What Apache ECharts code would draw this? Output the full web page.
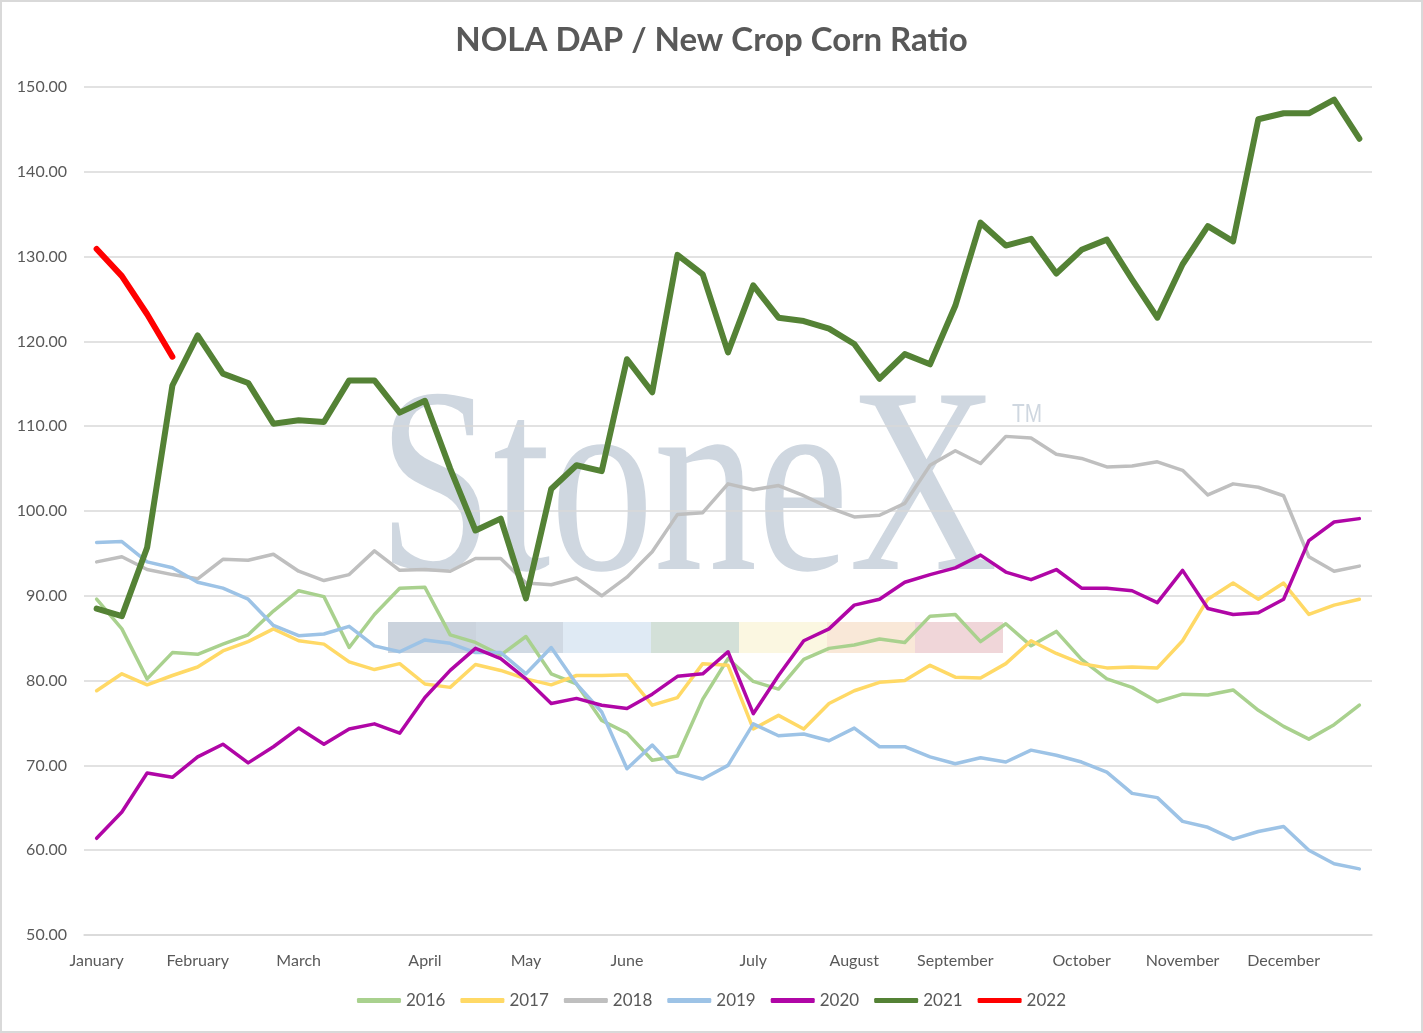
<!DOCTYPE html>
<html>
<head>
<meta charset="utf-8">
<title>NOLA DAP / New Crop Corn Ratio</title>
<script src="https://cdn.jsdelivr.net/npm/echarts@6/dist/echarts.min.js"></script>
<style>
  html, body { margin: 0; padding: 0; background: #fff; }
  #main { width: 1423px; height: 1033px; }
</style>
</head>
<body>
<div id="main"></div>
<script>
// weekly observations, 51 per year
var monthNames = ['January', 'February', 'March', 'April', 'May', 'June', 'July', 'August', 'September', 'October', 'November', 'December'];
var monthStartWeek = [0, 4, 8, 13, 17, 21, 26, 30, 34, 39, 43, 47];
var weekCount = 51;

var y2016 = [89.6, 86.1, 80.2, 83.3, 83.1, 84.3, 85.4, 88.2, 90.6, 89.9, 83.9, 87.8, 90.9,
    91.0, 85.4, 84.5, 83.0, 85.2, 80.8, 79.6, 75.3, 73.8, 70.6, 71.1, 77.8, 82.6,
    79.9, 79.0, 82.5, 83.8, 84.2, 84.9, 84.5, 87.6, 87.8, 84.6, 86.7, 84.1, 85.8,
    82.5, 80.2, 79.2, 77.5, 78.4, 78.3, 78.9, 76.5, 74.6, 73.1, 74.8, 77.1];
var y2017 = [78.8, 80.8, 79.5, 80.6, 81.6, 83.5, 84.6, 86.1, 84.7, 84.3, 82.2, 81.3, 82.0,
    79.6, 79.2, 81.9, 81.2, 80.2, 79.5, 80.6, 80.6, 80.7, 77.1, 78.0, 82.0, 81.8,
    74.3, 75.9, 74.3, 77.3, 78.8, 79.8, 80.0, 81.8, 80.4, 80.3, 82.0, 84.7, 83.2,
    82.0, 81.5, 81.6, 81.5, 84.7, 89.6, 91.5, 89.6, 91.5, 87.8, 88.9, 89.6];
var y2018 = [94.0, 94.6, 93.1, 92.5, 92.0, 94.3, 94.2, 94.9, 92.9, 91.8, 92.5, 95.3, 93.0,
    93.1, 92.9, 94.4, 94.4, 91.5, 91.3, 92.1, 90.0, 92.2, 95.2, 99.6, 99.8, 103.2,
    102.5, 103.0, 101.8, 100.4, 99.3, 99.5, 100.9, 105.4, 107.1, 105.6, 108.8, 108.6, 106.7,
    106.2, 105.2, 105.3, 105.8, 104.8, 101.9, 103.2, 102.8, 101.8, 94.6, 92.9, 93.5];
var y2019 = [96.3, 96.4, 94.0, 93.3, 91.6, 90.9, 89.6, 86.5, 85.3, 85.5, 86.4, 84.1, 83.4,
    84.8, 84.4, 83.3, 83.3, 80.8, 83.9, 79.6, 76.3, 69.6, 72.4, 69.2, 68.4, 70.0,
    74.9, 73.5, 73.7, 72.9, 74.4, 72.2, 72.2, 71.0, 70.2, 70.9, 70.4, 71.8, 71.2,
    70.4, 69.2, 66.7, 66.2, 63.4, 62.7, 61.3, 62.2, 62.8, 60.0, 58.4, 57.8];
var y2020 = [61.4, 64.5, 69.1, 68.6, 71.0, 72.5, 70.3, 72.2, 74.4, 72.5, 74.3, 74.9, 73.8,
    78.0, 81.2, 83.8, 82.6, 80.2, 77.3, 77.9, 77.1, 76.7, 78.4, 80.5, 80.8, 83.4,
    76.1, 80.6, 84.7, 86.1, 88.9, 89.6, 91.6, 92.5, 93.3, 94.8, 92.8, 91.9, 93.1,
    90.9, 90.9, 90.6, 89.2, 93.0, 88.5, 87.8, 88.0, 89.6, 96.5, 98.7, 99.1];
var y2021 = [88.5, 87.6, 95.7, 114.8, 120.7, 116.2, 115.1, 110.3, 110.7, 110.5, 115.4, 115.4, 111.6,
    113.0, 105.0, 97.7, 99.1, 89.7, 102.6, 105.4, 104.7, 117.9, 114.0, 130.2, 127.9, 118.7,
    126.6, 122.8, 122.4, 121.5, 119.7, 115.6, 118.5, 117.3, 124.2, 134.0, 131.3, 132.1, 128.0,
    130.8, 132.0, 127.3, 122.8, 129.1, 133.6, 131.8, 146.2, 146.9, 146.9, 148.5, 143.9];
var y2022 = [130.9, 127.7, 123.2, 118.2];

var yTicks = { min: 50, max: 150, step: 10 };

var weeks = [];
for (var i = 0; i < weekCount; i++) {
    weeks.push('W' + (i + 1));
}

function lineSeries(name, data, color, width) {
    return {
        name: name,
        type: 'line',
        data: data,
        symbol: 'none',
        showSymbol: false,
        color: color,
        lineStyle: { color: color, width: width, cap: 'round', join: 'round' },
        emphasis: { disabled: true }
    };
}

var chartDom = document.getElementById('main');
var myChart = echarts.init(chartDom);
var option;

var textColor = '#595959';
var font = 'Lato';

option = {
    animation: false,
    backgroundColor: '#ffffff',
    title: {
        text: 'NOLA DAP / New Crop Corn Ratio',
        left: 'center',
        top: 19,
        textStyle: { color: textColor, fontSize: 33, fontWeight: 'bold', fontFamily: font }
    },
    legend: {
        bottom: 19,
        left: 'center',
        icon: 'roundRect',
        itemWidth: 44,
        itemHeight: 5,
        itemGap: 15,
        textStyle: { color: textColor, fontSize: 17, fontFamily: font },
        data: ['2016', '2017', '2018', '2019', '2020', '2021', '2022']
    },
    grid: {
        left: 84,
        right: 51,
        top: 87,
        bottom: 98,
        containLabel: false
    },
    graphic: [
        {
            type: 'rect',
            z: -10,
            silent: true,
            shape: { x: 1, y: 1, width: 1421, height: 1031 },
            style: { fill: null, stroke: '#d9d9d9', lineWidth: 2 }
        },
        // StoneX watermark
        {
            type: 'text',
            z: -5,
            silent: true,
            x: 378,
            y: 367,
            scaleX: 0.78,
            style: {
                text: 'StoneX',
                font: '265px "Liberation Serif"',
                fill: '#cfd7e0'
            }
        },
        {
            type: 'text',
            z: -5,
            silent: true,
            x: 1012,
            y: 402,
            scaleX: 0.8,
            style: { text: 'TM', font: '26px "Liberation Sans"', fill: '#cfd7e0' }
        },
        { type: 'rect', z: -5, silent: true, shape: { x: 388, y: 622, width: 88, height: 31 }, style: { fill: '#cbd3dd' } },
        { type: 'rect', z: -5, silent: true, shape: { x: 476, y: 622, width: 88, height: 31 }, style: { fill: '#d0d9e3' } },
        { type: 'rect', z: -5, silent: true, shape: { x: 563, y: 622, width: 88, height: 31 }, style: { fill: '#dfeaf4' } },
        { type: 'rect', z: -5, silent: true, shape: { x: 651, y: 622, width: 88, height: 31 }, style: { fill: '#d3e0d8' } },
        { type: 'rect', z: -5, silent: true, shape: { x: 739, y: 622, width: 88, height: 31 }, style: { fill: '#fbf7e1' } },
        { type: 'rect', z: -5, silent: true, shape: { x: 827, y: 622, width: 88, height: 31 }, style: { fill: '#f9e8d8' } },
        { type: 'rect', z: -5, silent: true, shape: { x: 915, y: 622, width: 88, height: 31 }, style: { fill: '#f0d6d9' } }
    ],
    xAxis: {
        type: 'category',
        boundaryGap: true,
        data: weeks,
        axisLine: { show: true, lineStyle: { color: '#d9d9d9', width: 1.5 } },
        axisTick: { show: false },
        axisLabel: {
            color: textColor,
            fontSize: 16,
            fontFamily: font,
            margin: 18,
            interval: function (index) {
                return monthStartWeek.indexOf(index) >= 0;
            },
            formatter: function (value, index) {
                var k = monthStartWeek.indexOf(index);
                return k >= 0 ? monthNames[k] : '';
            }
        }
    },
    yAxis: {
        type: 'value',
        min: yTicks.min,
        max: yTicks.max,
        interval: yTicks.step,
        axisLine: { show: false },
        axisTick: { show: false },
        splitLine: { lineStyle: { color: '#d9d9d9', width: 1.5 } },
        axisLabel: {
            color: textColor,
            fontSize: 16,
            fontFamily: font,
            margin: 17,
            formatter: function (v) { return v.toFixed(2); }
        }
    },
    series: [
        lineSeries('2016', y2016, '#a9d18e', 3.5),
        lineSeries('2017', y2017, '#ffd966', 3.5),
        lineSeries('2018', y2018, '#bfbfbf', 3.5),
        lineSeries('2019', y2019, '#9dc3e6', 3.5),
        lineSeries('2020', y2020, '#b006a6', 3.5),
        lineSeries('2021', y2021, '#548235', 6),
        lineSeries('2022', y2022, '#ff0000', 6)
    ]
};

option && myChart.setOption(option);
</script>
</body>
</html>
